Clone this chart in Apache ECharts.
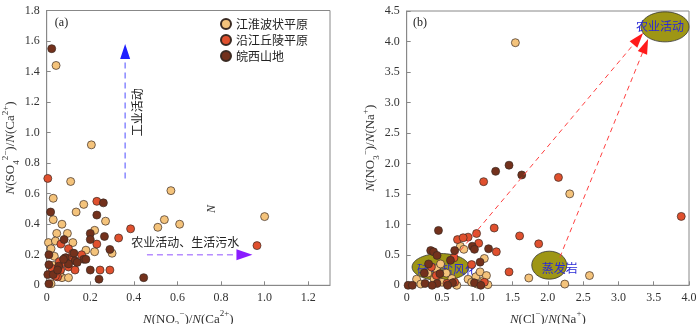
<!DOCTYPE html>
<html><head><meta charset="utf-8">
<script src="https://cdn.jsdelivr.net/npm/echarts@6/dist/echarts.min.js"></script>
<style>html,body{margin:0;padding:0;background:#fff}#c{width:700px;height:324px}</style>
</head><body><div id="c"></div>
<script>
// ---------- data ----------
const seriesNames = ['江淮波状平原', '沿江丘陵平原', '皖西山地'];
// Panel (a): N(NO3-)/N(Ca2+) vs N(SO4 2-)/N(Ca2+)
const a_jianghuai = [[0.043,1.44],[0.205,0.92],[0.11,0.68],[0.03,0.57],[0.57,0.62],[0.17,0.53],[0.135,0.48],[0.03,0.43],[0.07,0.40],[0.27,0.42],[0.54,0.43],[0.51,0.38],[0.61,0.40],[1.0,0.45],[0.046,0.34],[0.095,0.34],[0.22,0.36],[0.008,0.28],[0.04,0.29],[0.12,0.28],[0.02,0.24],[0.18,0.23],[0.22,0.22],[0.30,0.21],[0.035,0.19],[0.07,0.05],[0.10,0.05],[0.02,0.01],[0.03,0.13],[0.06,0.08]];
const a_yanjiang = [[0.005,0.70],[0.23,0.55],[0.385,0.37],[0.33,0.31],[0.065,0.27],[0.23,0.27],[0.10,0.24],[0.965,0.26],[0.16,0.20],[0.11,0.17],[0.075,0.15],[0.058,0.155],[0.025,0.11],[0.10,0.12],[0.13,0.10],[0.245,0.10],[0.29,0.10],[0.05,0.055],[0.064,0.10],[0.12,0.21],[0.09,0.18],[0.04,0.06]];
const a_wanxi = [[0.023,1.55],[0.26,0.54],[0.018,0.48],[0.23,0.46],[0.20,0.34],[0.265,0.32],[0.08,0.30],[0.20,0.30],[0.29,0.235],[0.125,0.21],[0.17,0.17],[0.085,0.18],[0.13,0.16],[0.14,0.15],[0.10,0.14],[0.01,0.135],[0.055,0.125],[0.20,0.10],[0.24,0.04],[0.445,0.05],[0.005,0.07],[0.01,0.01],[0.03,0.07],[0.077,0.17],[0.01,0.20],[0.18,0.17],[0.05,0.10]];
// Panel (b): N(Cl-)/N(Na+) vs N(NO3-)/N(Na+)
const b_jianghuai = [[1.54,3.98],[2.31,1.50],[0.76,0.64],[0.81,0.59],[1.10,0.44],[1.73,0.12],[2.24,0.02],[2.59,0.16],[0.14,0.10],[0.39,0.10],[0.64,0.11],[0.71,0.0],[0.87,0.10],[0.98,0.14],[1.04,0.22],[1.09,0.08],[1.15,0.01],[1.13,0.16],[0.42,0.27],[0.30,0.20],[0.50,0.05],[0.92,0.05],[1.0,0.02],[0.56,0.20],[0.20,0.02],[0.48,0.35]];
const b_yanjiang = [[1.09,1.70],[2.15,1.77],[3.89,1.13],[1.24,0.94],[0.99,0.85],[1.60,0.81],[1.87,0.68],[0.72,0.75],[0.87,0.79],[1.02,0.69],[1.27,0.55],[0.67,0.45],[0.92,0.34],[1.45,0.22],[0.57,0.03],[0.42,0.16],[0.35,0.30],[0.80,0.78],[0.68,0.05],[1.10,0.05]];
const b_wanxi = [[1.26,1.87],[1.45,1.97],[1.63,1.81],[0.45,0.90],[0.93,0.64],[0.96,0.59],[1.16,0.60],[0.34,0.57],[0.38,0.55],[0.43,0.49],[0.68,0.57],[0.62,0.41],[1.04,0.38],[0.31,0.35],[0.02,0.0],[0.08,0.0],[0.26,0.03],[0.43,0.03],[0.65,0.04],[0.96,0.04],[0.47,0.19],[0.36,0.0],[0.58,0.0],[0.25,0.20],[1.05,0.0]];
// tick labels
const aXTicks = ['0','0.2','0.4','0.6','0.8','1.0','1.2'];
const aYTicks = ['0','0.2','0.4','0.6','0.8','1.0','1.2','1.4','1.6','1.8'];
const bXTicks = ['0','0.5','1.0','1.5','2.0','2.5','3.0','3.5','4.0'];
const bYTicks = ['0','0.5','1.0','1.5','2.0','2.5','3.0','3.5','4.0','4.5'];

// ---------- style ----------
const SERIF = '"Liberation Serif","Times New Roman",serif';
const CJK = '"Noto Sans CJK SC",sans-serif';
const colors = ['#F4C37B', '#E0502E', '#73311C'];
const axisGray = '#888';

const chart = echarts.init(document.getElementById('c'), null, {renderer: 'canvas'});

const rich = {
  i: {fontFamily: SERIF, fontStyle: 'italic', fontSize: 13, color: '#333', lineHeight: 20},
  n: {fontFamily: SERIF, fontSize: 13, color: '#333', lineHeight: 20},
  sup: {fontFamily: SERIF, fontSize: 9, color: '#333', verticalAlign: 'top', lineHeight: 12},
  sub: {fontFamily: SERIF, fontSize: 9, color: '#333', verticalAlign: 'bottom', lineHeight: 12}
};
function axisBase(gridIndex, min, max, interval, labels, name, nameGap) {
  const vals = labels.map(parseFloat);
  return {
    type: 'value', gridIndex, min, max, interval,
    name, nameLocation: 'middle', nameGap,
    nameTextStyle: {rich},
    axisLine: {show: true, onZero: false, lineStyle: {color: axisGray}},
    axisTick: {show: true, inside: true, length: 4, lineStyle: {color: axisGray}, customValues: vals},
    splitLine: {show: false},
    axisLabel: {fontFamily: SERIF, fontSize: 12, color: '#333', margin: 7, customValues: vals,
      formatter: function (v) {
        let best = 0;
        vals.forEach((t, k) => { if (Math.abs(t - v) < Math.abs(vals[best] - v)) best = k; });
        return labels[best];
      }}
  };
}
function scatter(name, data, k, xi) {
  return {
    type: 'scatter', name, data, xAxisIndex: xi, yAxisIndex: xi,
    symbol: 'circle', symbolSize: 8,
    itemStyle: {color: colors[k], borderColor: '#3a2a22', borderWidth: 0.7, opacity: 1},
    z: 3
  };
}

chart.setOption({
  animation: false,
  grid: [
    {left: 46.7, top: 10.5, width: 283.3, height: 274.8, show: true, borderColor: axisGray, borderWidth: 1,
      containLabel: false, outerBoundsMode: 'none'},
    {left: 406.7, top: 11, width: 282.3, height: 274.3, show: true, borderColor: axisGray, borderWidth: 1,
      containLabel: false, outerBoundsMode: 'none'}
  ],
  xAxis: [
    axisBase(0, 0, 1.3, 0.2, aXTicks, '{i|N}{n|(NO}{sub|3}{sup|−}{n|)/}{i|N}{n|(Ca}{sup|2+}{n|)}', 18),
    axisBase(1, 0, 4, 0.5, bXTicks, '{i|N}{n|(Cl}{sup|−}{n|)/}{i|N}{n|(Na}{sup|+}{n|)}', 18)
  ],
  yAxis: [
    axisBase(0, 0, 1.8, 0.2, aYTicks, '{i|N}{n|(SO}{sub|4}{sup|2−}{n|)/}{i|N}{n|(Ca}{sup|2+}{n|)}', 25),
    axisBase(1, 0, 4.5, 0.5, bYTicks, '{i|N}{n|(NO}{sub|3}{sup|−}{n|)/}{i|N}{n|(Na}{sup|+}{n|)}', 25)
  ],
  legend: {
    data: seriesNames, orient: 'vertical', left: 220, top: 18, padding: 0,
    itemWidth: 10, itemHeight: 10, itemGap: 4, icon: 'circle',
    textStyle: {fontFamily: CJK, fontSize: 12, color: '#222'}
  },
  series: [
    scatter(seriesNames[0], a_jianghuai, 0, 0),
    scatter(seriesNames[1], a_yanjiang, 1, 0),
    scatter(seriesNames[2], a_wanxi, 2, 0),
    scatter(seriesNames[0], b_jianghuai, 0, 1),
    scatter(seriesNames[1], b_yanjiang, 1, 1),
    scatter(seriesNames[2], b_wanxi, 2, 1)
  ]
});

// ---------- annotations (positioned in data coordinates) ----------
function P(g, x, y) { return chart.convertToPixel({gridIndex: g}, [x, y]); }
function arrow(from, tip, L, W, lineColor, headColor, dash, lw) {
  const dx = tip[0] - from[0], dy = tip[1] - from[1];
  const len = Math.hypot(dx, dy), ux = dx / len, uy = dy / len;
  const bx = tip[0] - ux * L, by = tip[1] - uy * L;
  const px = -uy, py = ux;
  return [
    {type: 'line', z: 4, shape: {x1: from[0], y1: from[1], x2: bx, y2: by},
      style: {stroke: lineColor, lineWidth: lw, lineDash: dash}},
    {type: 'polygon', z: 4, shape: {points: [[tip[0], tip[1]], [bx + px * W / 2, by + py * W / 2], [bx - px * W / 2, by - py * W / 2]]},
      style: {fill: headColor}}
  ];
}
function label(pt, text, opts) {
  return Object.assign({type: 'text', x: pt[0], y: pt[1], z: 5,
    style: Object.assign({text, x: 0, y: 0, align: 'center', verticalAlign: 'middle',
      font: '12px ' + CJK, fill: '#222'}, opts && opts.style || {})}, opts && opts.el || {});
}
function ellipse(c, rx, ry) {
  return {type: 'ellipse', z: 1, shape: {cx: c[0], cy: c[1], rx, ry},
    style: {fill: '#9E9615', stroke: '#333', lineWidth: 0.8}};
}

const g = [];
// panel (a)
g.push(label([61.5, 23], '(a)', {style: {font: '12px ' + SERIF, fill: '#222'}}));
g.push(...arrow(P(0, 0.36, 0.70), P(0, 0.36, 1.58), 15, 10, '#8888ff', '#1f1fff', [6, 4], 1.5));
g.push(label(P(0, 0.415, 1.134), '工业活动', {el: {rotation: Math.PI / 2}}));
g.push(...arrow(P(0, 0.46, 0.20), P(0, 0.944, 0.20), 16, 11, '#b68cff', '#8a1cff', [6, 4], 1.5));
g.push(label(P(0, 0.636, 0.279), '农业活动、生活污水'));
g.push(label(P(0, 0.759, 0.50), 'N', {el: {rotation: Math.PI / 2}, style: {font: 'italic 12px ' + SERIF, fill: '#333'}}));
// panel (b)
g.push(label([420, 23], '(b)', {style: {font: '12px ' + SERIF, fill: '#222'}}));
g.push(ellipse(P(1, 3.66, 4.24), 24, 15));
g.push(label(P(1, 3.59, 4.24), '农业活动', {style: {fill: '#2a2ad6'}}));
g.push(ellipse(P(1, 2.02, 0.33), 17.5, 14));
g.push(label(P(1, 2.17, 0.275), '蒸发岩', {style: {fill: '#2a2ad6'}}));
g.push(ellipse(P(1, 0.48, 0.30), 28.5, 13.5));
g.push(Object.assign(label(P(1, 0.57, 0.26), '硅酸盐风化', {style: {fill: '#2a2ad6'}}), {z: 2}));
g.push(...arrow(P(1, 0.68, 0.46), P(1, 3.35, 4.14), 15, 10, '#ff4040', '#ff1a1a', [5, 4], 1));
g.push(...arrow(P(1, 2.17, 0.46), P(1, 3.42, 4.04), 15, 10, '#ff4040', '#ff1a1a', [5, 4], 1));

chart.setOption({graphic: {elements: g}});
</script>
</body></html>
